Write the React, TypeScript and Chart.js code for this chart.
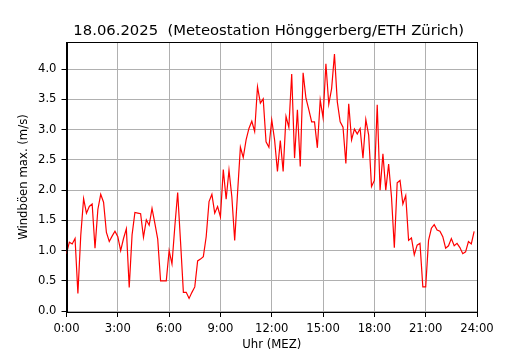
import { useEffect, useRef } from "react";
import { Chart, registerables } from "chart.js";

Chart.register(...registerables);

const TITLE = "18.06.2025  (Meteostation Hönggerberg/ETH Zürich)";
const Y_LABEL = "Windböen max. (m/s)";
const X_LABEL = "Uhr (MEZ)";

const STEP_MINUTES = 10;
const X_TICK_MINUTES = [0, 180, 360, 540, 720, 900, 1080, 1260, 1440];
const X_TICK_LABELS = ["0:00", "3:00", "6:00", "9:00", "12:00", "15:00", "18:00", "21:00", "24:00"];
const Y_TICKS = [0, 0.5, 1.0, 1.5, 2.0, 2.5, 3.0, 3.5, 4.0];

// Max. wind gusts (m/s), 10-minute values from 0:00 to 23:50
const GUSTS = [
  0.95, 1.14, 1.11, 1.20, 0.29, 1.25, 1.86, 1.62, 1.73, 1.77,
  1.04, 1.68, 1.93, 1.80, 1.30, 1.15, 1.24, 1.32, 1.23, 1.00,
  1.20, 1.36, 0.39, 1.26, 1.63, 1.62, 1.61, 1.22, 1.51, 1.42,
  1.70, 1.45, 1.19, 0.50, 0.50, 0.50, 1.00, 0.78, 1.40, 1.96,
  1.15, 0.31, 0.31, 0.21, 0.31, 0.40, 0.83, 0.86, 0.90, 1.23,
  1.81, 1.93, 1.62, 1.73, 1.56, 2.34, 1.85, 2.33, 1.89, 1.17,
  1.95, 2.71, 2.54, 2.83, 3.02, 3.14, 2.97, 3.71, 3.44, 3.51,
  2.80, 2.71, 3.16, 2.83, 2.31, 2.82, 2.31, 3.22, 3.04, 3.92,
  2.53, 3.33, 2.39, 3.94, 3.52, 3.33, 3.13, 3.13, 2.70, 3.49,
  3.20, 4.09, 3.42, 3.68, 4.25, 3.46, 3.13, 3.04, 2.44, 3.43,
  2.83, 3.01, 2.93, 3.02, 2.53, 3.17, 2.91, 2.06, 2.16, 3.41,
  2.00, 2.60, 2.00, 2.43, 1.89, 1.05, 2.12, 2.16, 1.77, 1.91,
  1.17, 1.21, 0.93, 1.09, 1.12, 0.40, 0.40, 1.17, 1.37, 1.43,
  1.34, 1.32, 1.23, 1.04, 1.08, 1.20, 1.08, 1.12, 1.05, 0.95,
  0.98, 1.15, 1.11, 1.32,
];

const FONT = "DejaVu Sans";

export default function App() {
  const ref = useRef<HTMLCanvasElement>(null);

  useEffect(() => {
    document.body.style.margin = "0";
    const canvas = ref.current;
    if (!canvas) return;

    const framePlugin = {
      id: "frameAndTitle",
      afterDraw(chart: any) {
        const { ctx, chartArea: a } = chart;
        ctx.save();
        ctx.strokeStyle = "#000";
        ctx.lineWidth = 1;
        const l = Math.round(a.left) + 0.5;
        const t = Math.round(a.top) + 0.5;
        const r = Math.round(a.right) + 0.5;
        const b = Math.round(a.bottom) + 0.5;
        ctx.strokeRect(l, t, r - l, b - t);
        ctx.fillStyle = "#000";
        ctx.font = `14.8px "${FONT}"`;
        ctx.textAlign = "center";
        ctx.textBaseline = "alphabetic";
        ctx.fillText(TITLE, (a.left + a.right) / 2 - 3, 35);
        ctx.restore();
      },
    };

    const chart = new Chart(canvas, {
      type: "line",
      data: {
        datasets: [
          {
            data: GUSTS.map((v, i) => ({ x: i * STEP_MINUTES, y: v })),
            borderColor: "#ff0000",
            borderWidth: 1.2,
            pointRadius: 0,
            tension: 0,
            fill: false,
          },
        ],
      },
      options: {
        responsive: false,
        animation: false,
        layout: { padding: { left: 0, right: 53, top: 42, bottom: 0 } },
        plugins: {
          legend: { display: false },
          tooltip: { enabled: false },
          title: { display: false },
        },
        scales: {
          x: {
            type: "linear",
            min: 0,
            max: 1440,
            afterBuildTicks: (s: any) => {
              s.ticks = X_TICK_MINUTES.map((v) => ({ value: v }));
            },
            afterFit: (s: any) => {
              s.height = 38;
            },
            ticks: {
              callback: (_v: any, i: number) => X_TICK_LABELS[i],
              font: { family: FONT, size: 11.6 },
              color: "#000",
              padding: 5,
              maxRotation: 0,
              autoSkip: false,
            },
            grid: { color: "#b0b0b0", lineWidth: 1, tickColor: "#000", tickLength: 5 },
            border: { color: "#000", width: 1 },
            title: {
              display: true,
              text: X_LABEL,
              font: { family: FONT, size: 11.7 },
              color: "#000",
              padding: { top: 0, bottom: -2 },
            },
          },
          y: {
            min: -0.015,
            max: 4.45,
            afterBuildTicks: (s: any) => {
              s.ticks = Y_TICKS.map((v) => ({ value: v }));
            },
            afterFit: (s: any) => {
              s.width = 66.5;
            },
            ticks: {
              callback: (v: any) => Number(v).toFixed(1),
              font: { family: FONT, size: 11.6 },
              color: "#000",
              padding: 5,
            },
            grid: { color: "#b0b0b0", lineWidth: 1, tickColor: "#000", tickLength: 5 },
            border: { color: "#000", width: 1 },
            title: {
              display: true,
              text: Y_LABEL,
              font: { family: FONT, size: 11.7 },
              color: "#000",
              padding: { top: 17, bottom: 0 },
            },
          },
        },
      },
      plugins: [framePlugin],
    } as any);

    return () => chart.destroy();
  }, []);

  return <canvas ref={ref} width={530} height={350} style={{ display: "block" }} />;
}
